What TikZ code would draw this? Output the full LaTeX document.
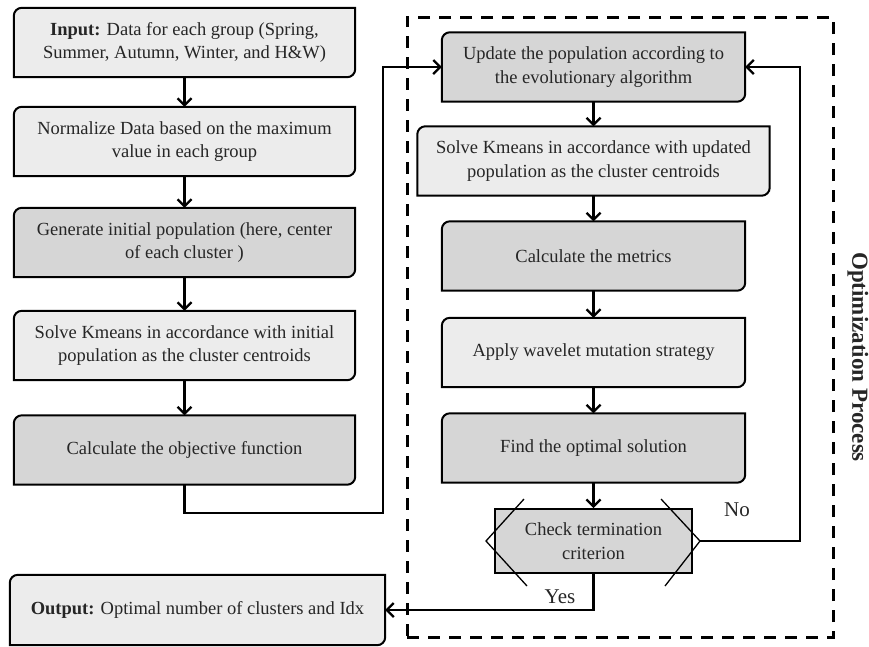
\documentclass[tikz,border=0pt]{standalone}
\usepackage{fontspec}
\setmainfont{Liberation Serif}
\usetikzlibrary{arrows.meta,backgrounds}

\definecolor{lightbox}{gray}{0.925}
\definecolor{darkbox}{gray}{0.84}

\tikzset{
	flow/.style={align=center, inner sep=0pt, text=black!85, font=\fontsize{18.5}{23.5}\selectfont},
	leftbox/.style={flow, minimum width=341pt, minimum height=69pt},
	rightbox/.style={flow, minimum width=303pt, minimum height=69pt},
	link/.style={line width=2.2pt, -{Straight Barb[length=7pt,width=14pt]}},
	tag/.style={text=black!85, font=\fontsize{21}{24}\selectfont},
}

\begin{document}
\begin{tikzpicture}[x=1pt,y=-1pt]
	\useasboundingbox (0,0) rectangle (869,646);

	% left column
	\node[leftbox] (inp) at (184.5,42.5) {\textbf{Input:} Data for each group (Spring,\\Summer, Autumn, Winter, and H\&W)};
	\node[leftbox] (norm) at (184.5,141.5) {Normalize Data based on the maximum\\value in each group};
	\node[leftbox] (gen) at (184.5,242.5) {Generate initial population (here, center\\of each cluster )};
	\node[leftbox] (solve) at (184.5,345.5) {Solve Kmeans in accordance with initial\\population as the cluster centroids};
	\node[leftbox] (objf) at (184.5,450) {Calculate the objective function};
	\node[leftbox, minimum width=375pt, minimum height=70pt] (outp) at (197.5,610) {\textbf{Output:} Optimal number of clusters and Idx};

	% optimization loop
	\node[draw, line width=3pt, dash pattern=on 12pt off 9pt, minimum width=426pt, minimum height=620pt] (optframe) at (620,327) {};
	\node[rotate=-90, text=black!85, font=\fontsize{23}{26}\selectfont\bfseries] (optlabel) at (858,357) {Optimization Process};

	\node[rightbox] (upd) at (593.5,67) {Update the population according to\\the evolutionary algorithm};
	\node[rightbox, minimum width=352pt] (solveu) at (593.5,161) {Solve Kmeans in accordance with updated\\population as the cluster centroids};
	\node[rightbox] (metr) at (593.5,256) {Calculate the metrics};
	\node[rightbox] (wave) at (593.5,352.5) {Apply wavelet mutation strategy};
	\node[rightbox] (findo) at (593.5,448) {Find the optimal solution};
	\node[flow, draw, fill=darkbox, line width=2pt, minimum width=197pt, minimum height=64pt] (check) at (593.5,541) {Check termination\\criterion};

	% box outlines
	\begin{scope}[on background layer]
		\foreach \n/\c in {inp/lightbox, norm/lightbox, gen/darkbox, solve/lightbox, objf/darkbox, outp/lightbox,
				upd/darkbox, solveu/lightbox, metr/darkbox, wave/lightbox, findo/darkbox}
			\filldraw[fill=\c, line width=2pt] ([yshift=-8pt]\n.north west) arc[start angle=180, end angle=90, radius=8pt]
				-- (\n.north east) -- ([yshift=8pt]\n.south east) arc[start angle=0, end angle=-90, radius=8pt]
				-- (\n.south west) -- cycle;
	\end{scope}

	% decision marks
	\draw[line width=1.3pt] ([xshift=30pt,yshift=42pt]check.west) -- ([xshift=-8pt]check.west) coordinate (hexl)
		-- ([xshift=33pt,yshift=-45pt]check.west);
	\draw[line width=1.3pt] ([xshift=-32pt,yshift=42pt]check.east) -- ([xshift=7pt]check.east) coordinate (hexr)
		-- ([xshift=-28pt,yshift=-45pt]check.east);

	% arrows
	\foreach \a/\b in {inp/norm, norm/gen, gen/solve, solve/objf, upd/solveu, solveu/metr, metr/wave, wave/findo, findo/check}
		\draw[link] (\a) -- (\b);

	\coordinate (j1) at (383,513);
	\draw[link] (objf.south) |- (j1) |- (upd.west);

	\coordinate (j2) at (800,541);
	\draw[link] (hexr) -- (j2) |- (upd.east);
	\node[tag] (no) at (737,510) {No};

	\draw[link] (check.south) |- (outp.east);
	\node[tag] (yes) at (560,597) {Yes};
\end{tikzpicture}
\end{document}
